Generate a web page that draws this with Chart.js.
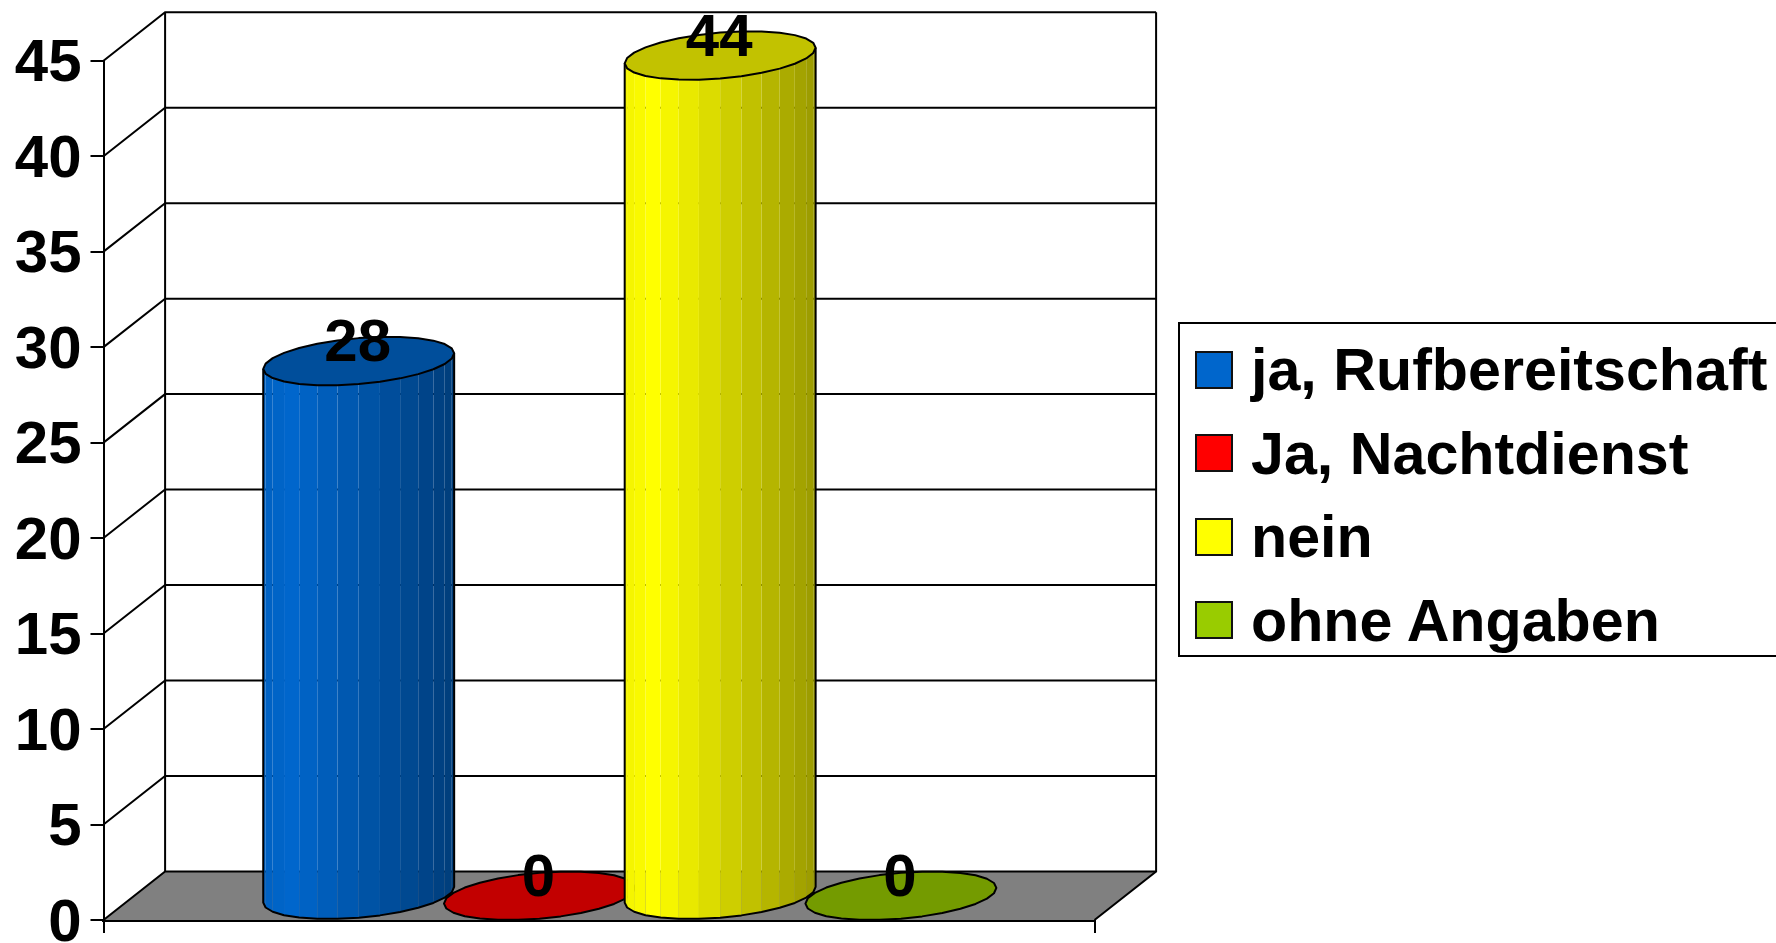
<!DOCTYPE html>
<html>
<head>
<meta charset="utf-8">
<script src="https://cdn.jsdelivr.net/npm/chart.js@4/dist/chart.umd.min.js"></script>
<style>
  html, body { margin: 0; padding: 0; background: #fff; overflow: hidden; }
  #wrap { position: relative; width: 1776px; height: 943px; overflow: hidden; }
  #legend {
    position: absolute; left: 1178px; top: 322px; width: 640px; height: 335px;
    box-sizing: border-box; padding: 4px 0 0 15px;
    border: 2px solid #000; background: #fff;
    font: bold 59.2px "Liberation Sans", Arial, sans-serif; color: #000;
  }
  .item { display: flex; align-items: center; height: 83.5px; white-space: nowrap; }
  .swatch { width: 38px; height: 38px; box-sizing: border-box; border: 2px solid #111; margin-right: 18px; }
</style>
</head>
<body>
<div id="wrap">
  <canvas id="chart" width="1776" height="943"></canvas>
  <div id="legend"></div>
</div>
<script>
const categories = [""];
const seriesNames = ["ja, Rufbereitschaft", "Ja, Nachtdienst", "nein", "ohne Angaben"];
const seriesValues = [28, 0, 44, 0];
const seriesColours = ["#0066CC", "#FF0000", "#FFFF00", "#99CC00"];

const DEPTH_X = 61.6;
const DEPTH_Y = 48.5;
const FACETS = 28;
const FLOOR_COLOUR = "#808080";
const LINE_WIDTH = 2;
const FONT = "'Liberation Sans', Arial, sans-serif";

function shade(hex, k) {
  const n = parseInt(hex.slice(1), 16);
  const r = Math.round(((n >> 16) & 255) * k);
  const g = Math.round(((n >> 8) & 255) * k);
  const b = Math.round((n & 255) * k);
  return `rgb(${r},${g},${b})`;
}

function facetBrightness(f) {
  if (f < 0.15) return 0.95 + f / 3;
  return 1 - (f - 0.15) * 0.47;
}

function drawCylinder(ctx, bar, colour) {
  const a = bar.width / 2;
  const dx = DEPTH_X / 2;
  const dy = DEPTH_Y / 2;
  const cx = bar.x + dx;
  const t0 = Math.atan2(dx, a);
  const half = Math.hypot(a, dx);
  const point = (t, cy) => [cx + a * Math.cos(t) + dx * Math.sin(t), cy - dy * Math.sin(t)];
  const topY = bar.y - dy;
  const baseY = bar.base - dy;

  ctx.save();
  ctx.lineWidth = LINE_WIDTH;
  ctx.strokeStyle = "#000";
  ctx.lineJoin = "round";

  if (baseY - topY > 0.5) {
    // front half of the side, one quad per facet
    for (let k = 0; k < FACETS / 2; k++) {
      const p = point(t0 - (k * 2 * Math.PI) / FACETS, baseY);
      const q = point(t0 - ((k + 1) * 2 * Math.PI) / FACETS, baseY);
      const f = ((p[0] + q[0]) / 2 - (cx - half)) / (2 * half);
      ctx.beginPath();
      ctx.moveTo(p[0], p[1]);
      ctx.lineTo(q[0], q[1]);
      ctx.lineTo(q[0], q[1] - (baseY - topY));
      ctx.lineTo(p[0], p[1] - (baseY - topY));
      ctx.closePath();
      ctx.fillStyle = shade(colour, facetBrightness(f));
      ctx.fill();
    }
    ctx.beginPath();
    for (let k = 0; k <= FACETS / 2; k++) {
      const p = point(t0 - (k * 2 * Math.PI) / FACETS, baseY);
      if (k === 0) ctx.moveTo(p[0], p[1] - (baseY - topY));
      ctx.lineTo(p[0], p[1]);
    }
    const end = point(t0 - Math.PI, topY);
    ctx.lineTo(end[0], end[1]);
    ctx.stroke();
  }

  // top cap (a zero value is only this cap lying on the floor)
  ctx.beginPath();
  for (let k = 0; k < FACETS; k++) {
    const p = point(t0 - (k * 2 * Math.PI) / FACETS, topY);
    if (k === 0) ctx.moveTo(p[0], p[1]);
    else ctx.lineTo(p[0], p[1]);
  }
  ctx.closePath();
  ctx.fillStyle = shade(colour, 0.76);
  ctx.fill();
  ctx.stroke();
  ctx.restore();
}

const box3d = {
  id: "box3d",
  beforeDatasetsDraw(chart) {
    const { ctx, chartArea: area, scales } = chart;
    const y0 = scales.y.getPixelForValue(0);
    ctx.save();
    ctx.fillStyle = FLOOR_COLOUR;
    ctx.beginPath();
    ctx.moveTo(area.left, y0);
    ctx.lineTo(area.right, y0);
    ctx.lineTo(area.right + DEPTH_X, y0 - DEPTH_Y);
    ctx.lineTo(area.left + DEPTH_X, y0 - DEPTH_Y);
    ctx.closePath();
    ctx.fill();

    ctx.strokeStyle = "#000";
    ctx.lineWidth = LINE_WIDTH;
    scales.y.ticks.forEach((tick) => {
      const y = scales.y.getPixelForValue(tick.value);
      ctx.beginPath();
      ctx.moveTo(area.left, y);
      ctx.lineTo(area.left + DEPTH_X, y - DEPTH_Y);
      ctx.lineTo(area.right + DEPTH_X, y - DEPTH_Y);
      ctx.stroke();
    });
    ctx.beginPath();
    ctx.moveTo(area.left + DEPTH_X, area.top - DEPTH_Y);
    ctx.lineTo(area.left + DEPTH_X, y0 - DEPTH_Y);
    ctx.moveTo(area.right + DEPTH_X, area.top - DEPTH_Y);
    ctx.lineTo(area.right + DEPTH_X, y0 - DEPTH_Y);
    ctx.lineTo(area.right, y0);
    ctx.stroke();
    ctx.restore();
  },
  // the library paints the last series first, the picture wants the first one at the back
  beforeDatasetDraw() {
    return false;
  },
  afterDatasetsDraw(chart) {
    const { ctx } = chart;
    chart.data.datasets.forEach((ds, i) => {
      drawCylinder(ctx, chart.getDatasetMeta(i).data[0], seriesColours[i]);
    });
    ctx.save();
    ctx.font = `bold 60px ${FONT}`;
    ctx.fillStyle = "#000";
    ctx.textAlign = "center";
    ctx.textBaseline = "middle";
    chart.data.datasets.forEach((ds, i) => {
      const bar = chart.getDatasetMeta(i).data[0];
      ctx.fillText(String(ds.data[0]), bar.x + DEPTH_X / 2 - 1, bar.y - DEPTH_Y + 8);
    });
    ctx.restore();
  },
};

const htmlLegend = {
  id: "htmlLegend",
  afterUpdate(chart) {
    const holder = document.getElementById("legend");
    holder.innerHTML = "";
    chart.options.plugins.legend.labels.generateLabels(chart).forEach((item) => {
      const row = document.createElement("div");
      row.className = "item";
      const swatch = document.createElement("span");
      swatch.className = "swatch";
      swatch.style.background = item.fillStyle;
      row.appendChild(swatch);
      row.appendChild(document.createTextNode(item.text));
      holder.appendChild(row);
    });
  },
};

new Chart(document.getElementById("chart"), {
  type: "bar",
  data: {
    labels: categories,
    datasets: seriesNames.map((name, i) => ({
      label: name,
      data: [seriesValues[i]],
      backgroundColor: seriesColours[i],
    })),
  },
  plugins: [box3d, htmlLegend],
  options: {
    responsive: false,
    animation: false,
    layout: { padding: { left: 0, top: 60.7, right: 681.5, bottom: 0 } },
    datasets: { bar: { categoryPercentage: 0.7295, barPercentage: 1 } },
    plugins: { legend: { display: false }, tooltip: { enabled: false } },
    scales: {
      x: {
        offset: true,
        afterFit: (scale) => { scale.height = 23; },
        grid: { drawOnChartArea: false, drawTicks: true, tickLength: 13, color: "#000", lineWidth: LINE_WIDTH },
        border: { color: "#000", width: 3 },
        ticks: { display: false },
      },
      y: {
        min: 0,
        max: 45,
        afterFit: (scale) => {
          scale.width = 103.5;
          scale.paddingTop = 0;
          scale.paddingBottom = 0;
        },
        grid: { drawOnChartArea: false, drawTicks: true, tickLength: 13, color: "#000", lineWidth: LINE_WIDTH },
        border: { color: "#000", width: LINE_WIDTH },
        ticks: {
          stepSize: 5,
          autoSkip: false,
          padding: 9,
          labelOffset: 4,
          color: "#000",
          font: { family: FONT, size: 60, weight: "bold" },
        },
      },
    },
  },
});
</script>
</body>
</html>
